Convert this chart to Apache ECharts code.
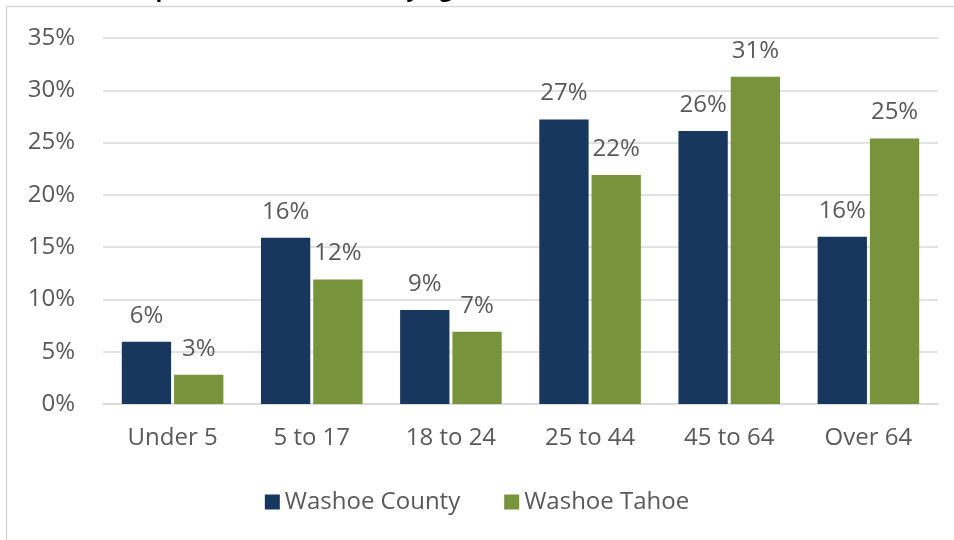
<!DOCTYPE html>
<html>
<head>
<meta charset="utf-8">
<script src="https://cdn.jsdelivr.net/npm/echarts@6/dist/echarts.min.js"></script>
<style>
  html, body { margin: 0; padding: 0; background: #fff; }
  #chart { width: 954px; height: 540px; }
</style>
</head>
<body>
<div id="chart"></div>
<script>
const categories = ['Under 5', '5 to 17', '18 to 24', '25 to 44', '45 to 64', 'Over 64']
const washoeCounty = [5.96, 15.9, 9.0, 27.2, 26.1, 16.0]
const washoeTahoe = [2.8, 11.9, 6.9, 21.9, 31.3, 25.4]
const seriesNames = ['Washoe County', 'Washoe Tahoe']

const font = '"Open Sans", "Liberation Sans", sans-serif'
const textColor = '#595959'
const fs = 24

const chart = echarts.init(document.getElementById('chart'))

const barLabel = {
  show: true,
  position: 'top',
  distance: 14,
  color: textColor,
  fontFamily: font,
  fontSize: fs,
  formatter: p => Math.round(p.value) + '%'
}

chart.setOption({
  animation: false,
  graphic: [
    {
      type: 'rect',
      shape: {x: 6.5, y: 6.5, width: 1200, height: 1200},
      style: {fill: 'none', stroke: '#d9d9d9', lineWidth: 1.5}
    },
    {
      // title sits above the frame and is mostly cut off in the picture
      type: 'text',
      left: 128,
      top: -20,
      style: {
        text: 'Population Distribution by Age',
        fill: '#000',
        font: 'bold 22px ' + font
      }
    }
  ],
  grid: {left: 103, right: 16, top: 38, bottom: 136},
  legend: {
    data: seriesNames,
    top: 485,
    left: 'center',
    icon: 'rect',
    itemWidth: 15,
    itemHeight: 15,
    itemGap: 44,
    textStyle: {color: textColor, fontFamily: font, fontSize: fs}
  },
  xAxis: {
    type: 'category',
    data: categories,
    axisLine: {lineStyle: {color: '#d9d9d9', width: 1.5}},
    axisTick: {show: false},
    axisLabel: {color: textColor, fontFamily: font, fontSize: fs, margin: 22}
  },
  yAxis: {
    type: 'value',
    min: 0,
    max: 35,
    interval: 5,
    axisLine: {show: false},
    axisTick: {show: false},
    splitLine: {lineStyle: {color: '#d9d9d9', width: 1.5}},
    axisLabel: {
      color: textColor, fontFamily: font, fontSize: fs, margin: 28,
      formatter: '{value}%'
    }
  },
  series: [
    {
      name: seriesNames[0],
      type: 'bar',
      data: washoeCounty,
      barCategoryGap: '27%',
      barGap: '6%',
      itemStyle: {color: '#17375e'},
      label: barLabel
    },
    {
      name: seriesNames[1],
      type: 'bar',
      data: washoeTahoe,
      itemStyle: {color: '#77933c'},
      label: barLabel
    }
  ]
})
</script>
</body>
</html>
